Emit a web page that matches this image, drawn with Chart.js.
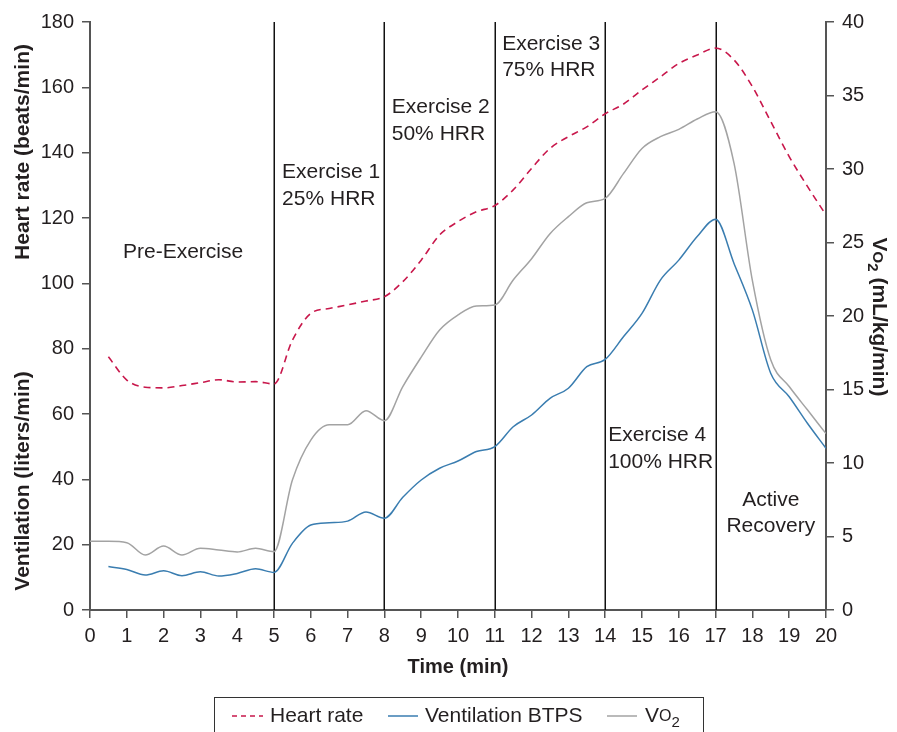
<!DOCTYPE html>
<html><head><meta charset="utf-8">
<script src="https://cdn.jsdelivr.net/npm/chart.js@4.4.1/dist/chart.umd.min.js"></script>
<style>html,body{margin:0;padding:0;background:#fff;overflow:hidden}#wrap{position:relative;width:897px;height:732px}</style>
</head><body><div id="wrap"><canvas id="c" width="897" height="732"></canvas></div>
<script>
// ---- data ----
const times = [0,0.5,1,1.5,2,2.5,3,3.5,4,4.5,5,5.5,6,6.5,7,7.5,8,8.5,9,9.5,10,10.5,11,11.5,12,12.5,13,13.5,14,14.5,15,15.5,16,16.5,17,17.5,18,18.5,19,19.5,20];
const heartRate = [null,77.5,70.4,68.2,68.0,68.7,69.6,70.5,69.8,69.9,69.2,82.6,90.8,92.3,93.4,94.6,95.9,100.5,107.1,114.8,118.9,121.9,123.8,128.6,135.2,141.3,144.9,147.9,151.9,154.9,159.2,163.2,167.3,169.9,172.0,168.4,160.2,149.5,138.8,129.6,120.9];
const ventilation = [null,13.3,12.4,10.7,12.0,10.5,11.7,10.4,11.2,12.6,11.5,20.4,26.0,26.7,27.2,30.0,28.1,34.5,39.8,43.4,45.6,48.5,50.0,56.1,59.7,64.8,67.9,74.5,76.7,83.7,90.8,101.0,107.1,114.3,119.6,106.1,91.8,72.4,65.3,57.1,49.5];
const vo2 = [4.67,4.67,4.58,3.74,4.35,3.74,4.2,4.08,3.95,4.2,3.97,8.84,11.56,12.6,12.6,13.56,12.88,15.2,17.2,19.05,20.07,20.68,20.75,22.45,23.9,25.6,26.76,27.7,28.0,29.7,31.4,32.2,32.7,33.4,33.9,30.4,22.4,17.0,15.2,13.6,12.0];
const phaseBoundaries = [5,8,11,14,17];
const phaseTexts = [['Pre-Exercise'],['Exercise 1','25% HRR'],['Exercise 2','50% HRR'],['Exercise 3','75% HRR'],['Exercise 4','100% HRR'],['Active','Recovery']];
// placement of phase texts in data coordinates (minutes, left-axis units)
const phaseTextX = [2.53,5.22,8.2,11.2,14.08,18.5];
const phaseTextY = [[109.6],[134,125.8],[154,145.7],[173.3,165.3],[53.6,45.3],[33.7,25.7]];
const phaseTextAlign = ['center','left','left','left','left','center'];

const toXY = arr => times.map((t,i)=>({x:t,y:arr[i]}));
const FONT = '"Liberation Sans", Arial, Helvetica, sans-serif';
const TXT = '#231f20';
const AX = '#555555';

const extras = {
  id:'extras',
  beforeDatasetsDraw(chart){
    const {ctx, chartArea:a, scales:{x}} = chart;
    ctx.save();
    ctx.strokeStyle = '#111';
    ctx.lineWidth = 1.5;
    phaseBoundaries.forEach(v=>{
      const px = Math.round(x.getPixelForValue(v))+0.25;
      ctx.beginPath(); ctx.moveTo(px,a.top); ctx.lineTo(px,a.bottom); ctx.stroke();
    });
    ctx.restore();
  },
  afterDraw(chart){
    const {ctx, chartArea:a, scales:{x,y}} = chart;
    ctx.save();
    ctx.fillStyle = TXT;
    ctx.textBaseline = 'middle';
    ctx.font = '21px '+FONT;
    phaseTexts.forEach((lines,i)=>{
      ctx.textAlign = phaseTextAlign[i];
      lines.forEach((t,j)=>ctx.fillText(t, x.getPixelForValue(phaseTextX[i]), y.getPixelForValue(phaseTextY[i][j])));
    });
    // x title
    ctx.font = 'bold 20px '+FONT;
    ctx.textAlign = 'center';
    ctx.fillText('Time (min)', (a.left+a.right)/2, 667);
    // left titles
    ctx.font = 'bold 21px '+FONT;
    ctx.save();
    ctx.translate(23,152); ctx.rotate(-Math.PI/2);
    ctx.fillText('Heart rate (beats/min)',0,0);
    ctx.restore();
    ctx.save();
    ctx.translate(23,481); ctx.rotate(-Math.PI/2);
    ctx.fillText('Ventilation (liters/min)',0,0);
    ctx.restore();
    // right title
    ctx.save();
    ctx.translate(879,317); ctx.rotate(Math.PI/2);
    const big='bold 21px '+FONT, small='bold 15px '+FONT;
    ctx.font=big; const wV=ctx.measureText('V').width;
    ctx.font=small; const wO=ctx.measureText('O').width, w2=ctx.measureText('2').width;
    ctx.font=big; const wR=ctx.measureText(' (mL/kg/min)').width;
    let cx = -(wV+wO+w2+wR)/2;
    ctx.textAlign='left';
    ctx.font=big; ctx.fillText('V',cx,0); cx+=wV;
    ctx.font=small; ctx.fillText('O',cx,2); cx+=wO; ctx.fillText('2',cx,7); cx+=w2;
    ctx.font=big; ctx.fillText(' (mL/kg/min)',cx,0);
    ctx.restore();
    // legend
    ctx.strokeStyle='#333'; ctx.lineWidth=1;
    ctx.strokeRect(214.5,697.5,489,50);
    const ly=716;
    ctx.lineWidth=1.5;
    ctx.font='21px '+FONT; ctx.textAlign='left';
    ctx.strokeStyle='#c8174b'; ctx.setLineDash([5,4]);
    ctx.beginPath(); ctx.moveTo(232,ly); ctx.lineTo(263,ly); ctx.stroke();
    ctx.setLineDash([]);
    ctx.fillText('Heart rate',270,ly);
    ctx.strokeStyle='#3a7db0';
    ctx.beginPath(); ctx.moveTo(388,ly); ctx.lineTo(418,ly); ctx.stroke();
    ctx.fillText('Ventilation BTPS',425,ly);
    ctx.strokeStyle='#a3a3a3';
    ctx.beginPath(); ctx.moveTo(607,ly); ctx.lineTo(637,ly); ctx.stroke();
    ctx.fillText('V',645,ly);
    const vw=ctx.measureText('V').width;
    ctx.font='16px '+FONT; ctx.fillText('O',645+vw,ly+1);
    const ow=ctx.measureText('O').width;
    ctx.font='15px '+FONT; ctx.fillText('2',645+vw+ow,ly+7);
    ctx.restore();
  }
};

const axisCommon = {
  grid:{display:true,drawOnChartArea:false,drawTicks:true,tickLength:8,color:AX,lineWidth:1.5},
  border:{display:true,color:AX,width:2},
};

new Chart(document.getElementById('c'),{
  type:'line',
  data:{datasets:[
    {label:'Heart rate',data:toXY(heartRate),yAxisID:'y',borderColor:'#c8174b',borderWidth:1.6,borderDash:[7,5],pointRadius:0,cubicInterpolationMode:'monotone',spanGaps:false,fill:false},
    {label:'Ventilation BTPS',data:toXY(ventilation),yAxisID:'y',borderColor:'#3a7db0',borderWidth:1.5,pointRadius:0,cubicInterpolationMode:'monotone',fill:false},
    {label:'VO2',data:toXY(vo2),yAxisID:'y1',borderColor:'#a3a3a3',borderWidth:1.5,pointRadius:0,cubicInterpolationMode:'monotone',fill:false}
  ]},
  options:{
    responsive:false,animation:false,devicePixelRatio:1,
    layout:{padding:{top:22,left:0,right:0,bottom:0}},
    plugins:{legend:{display:false},tooltip:{enabled:false}},
    scales:{
      x:{type:'linear',min:0,max:20,...axisCommon,
        ticks:{stepSize:1,font:{size:20,family:FONT},color:TXT,padding:6,maxRotation:0},
        afterFit:s=>{s.height=122;}},
      y:{position:'left',min:0,max:180,...axisCommon,
        ticks:{stepSize:20,font:{size:20,family:FONT},color:TXT,padding:8},
        afterFit:s=>{s.width=90;}},
      y1:{position:'right',min:0,max:40,...axisCommon,
        ticks:{stepSize:5,font:{size:20,family:FONT},color:TXT,padding:8},
        afterFit:s=>{s.width=71;}}
    }
  },
  plugins:[extras]
});
</script></body></html>
